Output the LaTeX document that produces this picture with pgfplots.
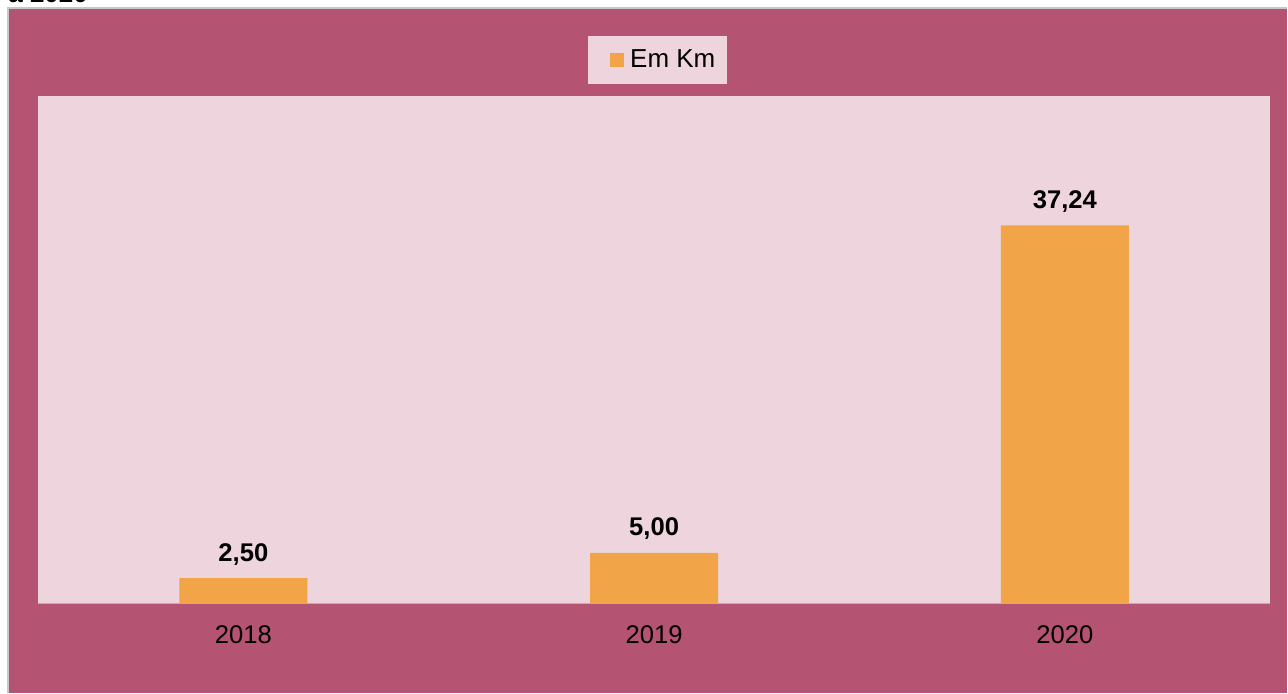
\documentclass[border=0pt]{standalone}
\usepackage{fontspec}
\setmainfont{Liberation Sans}
\usepackage{pgfplots}
\pgfplotsset{compat=1.18}
\definecolor{mauve}{HTML}{B55472}
\definecolor{plotbg}{HTML}{EED4DD}
\definecolor{barc}{HTML}{F2A548}
\begin{document}
\begin{tikzpicture}
\fill[white] (0,0) rectangle (644pt,346.5pt);
\fill[mauve] (4pt,0) rectangle (644pt,342.5pt);
\draw[black!22,line width=0.8pt] (4pt,0) -- (4pt,342.5pt) -- (644pt,342.5pt);
\node[overlay,anchor=base west,font=\fontsize{13pt}{15pt}\selectfont\bfseries,inner sep=0pt] at (4pt,345pt) {a 2020};
\begin{axis}[
  at={(19pt,44.5pt)}, anchor=south west,
  scale only axis, width=616.5pt, height=254pt,
  xmin=-0.5, xmax=2.5, ymin=0, ymax=50,
  axis background/.style={fill=plotbg},
  axis line style={draw=none},
  axis x line*=bottom,
  hide y axis,
  xtick={0,1,2}, xticklabels={2018,2019,2020},
  major tick length=0pt,
  xticklabel style={font=\fontsize{12.8pt}{14pt}\selectfont, yshift=-7.5pt},
  ybar, bar width=64pt, bar shift=0pt,
  point meta=explicit symbolic,
  nodes near coords,
  nodes near coords style={font=\fontsize{12.8pt}{14pt}\selectfont\bfseries, yshift=3pt},
  legend style={at={(0.503,1.0709)}, anchor=center, draw=none, fill=plotbg,
    font=\fontsize{13pt}{15pt}\selectfont, inner xsep=4.5pt, inner ysep=5pt,
    nodes={inner xsep=1.5pt}},
  legend image code/.code={\path (-6.5pt,0) (8.5pt,0);\fill[barc] (0pt,-3.5pt) rectangle (7pt,3.5pt);},
]
\draw[black!30, line width=0.9pt] (axis cs:-0.5,0) -- (axis cs:2.5,0);
\addplot[fill=barc, draw=none] coordinates {(0,2.50)[2,50] (1,5.00)[5,00] (2,37.24)[37,24]};
\addlegendentry{Em Km}
\end{axis}
\end{tikzpicture}
\end{document}
